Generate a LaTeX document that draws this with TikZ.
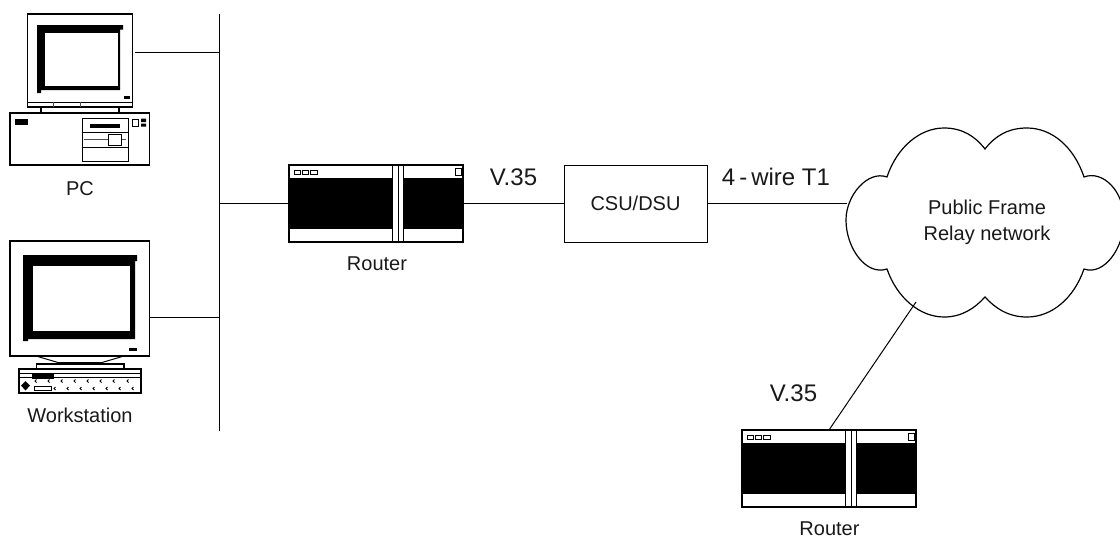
\documentclass[tikz,border=0pt]{standalone}
\usepackage{fontspec}
\setmainfont{Liberation Sans}
\tikzset{
  ln/.style={draw=black,line width=1pt},
  lk/.style={draw=black,line width=1.6pt},
  thinbox/.style={draw=black,line width=1pt,fill=white},
  devbox/.style={draw=black,line width=1.6pt,fill=white,inner sep=0pt,outer sep=0pt,rectangle},
  biglab/.style={font=\fontsize{20}{26}\selectfont,inner sep=0pt,text=black!90},
  hugelab/.style={font=\fontsize{24}{26}\selectfont,inner sep=0pt,text=black!90}
}
\newcommand{\routerart}[2]{%
  \begin{scope}[shift={(#1,#2)}]
    \fill[black] (0,13) rectangle (174,64);
    \draw[thinbox] (103,0) rectangle (109,77);
    \draw[thinbox] (109,0) rectangle (114,77);
    \draw[line width=1pt] (5,5) rectangle (11,9) (13,5) rectangle (19,9) (21,5) rectangle (28,9);
    \draw[line width=1pt] (166,3.5) rectangle (172,10.5);
    \draw[line width=1.6pt] (0,0) rectangle (174,77);
  \end{scope}}
\begin{document}
\begin{tikzpicture}[x=1pt,y=-1pt]
\useasboundingbox (0,0) rectangle (1120,539);
% PC
\node[devbox,minimum width=105pt,minimum height=93pt] (pcm) at (80,60.5) {};
\fill[black] (37,25) -- (123,25) -- (123,29.5) -- (120,29.5) -- (120,90) -- (41,90) -- (41,93) -- (37,93) -- cycle;
\fill[white] (45,32.5) rectangle (118,85.5);
\draw[ln] (27.5,102) -- (132,102);
\draw[line width=.8pt,draw=black!70] (53.5,102) -- (53.5,107) (80,102) -- (80,107);
\fill[black] (124,96) rectangle (129.5,98.5);
\draw[line width=1.2pt] (41,107) -- (41,113) (119,107) -- (119,113);
\node[devbox,minimum width=139.5pt,minimum height=52pt] (pcc) at (79.75,139) {};
\fill[black] (14.5,118.5) rectangle (28,124.5);
\draw[line width=1pt] (82.5,118) rectangle (128.5,161.5);
\draw[line width=1pt] (82.5,132) -- (128.5,132) (82.5,147) -- (128.5,147);
\draw[line width=.8pt,draw=black!70] (84,139.5) -- (126,139.5);
\fill[black] (90,124) rectangle (120,127.5);
\draw[line width=1pt,fill=white] (108,134.5) rectangle (121.5,145);
\draw[line width=1pt] (132.5,119) rectangle (138.5,126);
\fill[black] (141,118.5) rectangle (146,122) (141,123.5) rectangle (146,126.5);
\node[biglab] (pclab) at (80,189) {PC};
% Workstation
\node[devbox,minimum width=139.5pt,minimum height=115pt] (wsm) at (79.75,298.5) {};
\fill[black] (23,255) -- (137,255) -- (137,261) -- (135,261) -- (135,339) -- (28,339) -- (28,341) -- (23,341) -- cycle;
\fill[white] (32.5,266) rectangle (130,331);
\fill[black] (129,347.5) rectangle (137,350.5);
\draw[line width=1pt] (36,356) -- (58,362.5) -- (58,364) (124,356) -- (102,362.5) -- (102,364) (58,362.5) -- (102,362.5);
\draw[line width=1.2pt] (36.5,369) |- (124,364) -- (124,369);
\node[devbox,minimum width=122pt,minimum height=24pt] (wsk) at (80,381) {};
\draw[line width=.8pt] (19,373.5) -- (141,373.5) (19,377) -- (141,377);
\fill[black] (32,374) rectangle (54,378.5);
\fill[black] (25.5,381) -- (30,385.5) -- (25.5,390.5) -- (21,385.5) -- cycle;
\draw[line width=1pt] (34,386) rectangle (51.5,390);
\foreach \kx in {35,48,61,74,87,100,113,127}
  \draw[line width=1pt] (\kx+1.5,379.5) -- (\kx,381) -- (\kx+1.5,382.5);
\foreach \kx in {54,67,80,93,106,119,132}
  \draw[line width=1pt] (\kx+1.5,387) -- (\kx,388.5) -- (\kx+1.5,390);
\node[biglab] (wslab) at (80,415) {Workstation};
% Bus
\coordinate (bt) at (219,14);
\coordinate (bb) at (219,431);
\coordinate (b1) at (219,52);
\coordinate (b2) at (219,203.5);
\coordinate (b3) at (219,317);
\coordinate (pcp) at (135,52);
\draw[ln] (bt) -- (bb);
\draw[ln] (pcp) -- (b1);
\draw[ln] (wsm.east |- b3) -- (b3);
% Router 1
\node[rectangle,inner sep=0pt,outer sep=0pt,minimum width=174pt,minimum height=77pt] (r1) at (376,203.5) {};
\routerart{289}{165}
\node[biglab] (r1lab) at (377,264) {Router};
% CSU
\node[thinbox,inner sep=0pt,outer sep=0pt,minimum width=143pt,minimum height=77pt,biglab] (csu) at (635.5,203.5) {CSU/DSU};
% Cloud
\draw[line width=1.2pt,fill=white] (887,177) .. controls (897,147) and (920,128) .. (944,128)
  .. controls (962,128) and (975,136) .. (985,149)
  .. controls (995,136) and (1008,128) .. (1027,128)
  .. controls (1052,128) and (1074,147) .. (1084,177)
  .. controls (1102,170) and (1124,190) .. (1124,220)
  .. controls (1124,248) and (1104,276) .. (1084,269)
  .. controls (1074,298) and (1052,317) .. (1027,317)
  .. controls (1008,317) and (995,308) .. (985,297)
  .. controls (975,308) and (962,317) .. (944,317)
  .. controls (920,317) and (897,298) .. (887,269)
  .. controls (866,276) and (846,248) .. (846,220)
  .. controls (846,195) and (868,170) .. (887,177) -- cycle;
\node[biglab,align=center] (cloud) at (987,222) {Public Frame\\Relay network};
\coordinate (cw) at (847,203.5);
\coordinate (cs) at (916,302);
% Router 2
\node[rectangle,inner sep=0pt,outer sep=0pt,minimum width=174pt,minimum height=77pt] (r2) at (829,468.5) {};
\routerart{742}{430}
\node[biglab] (r2lab) at (829.5,528.5) {Router};
% Links
\draw[lk] (b2) -- (r1.west);
\draw[lk] (r1.east) -- (csu.west);
\draw[lk] (csu.east) -- (cw);
\draw[ln] (cs) -- (r2.north);
% Labels
\node[hugelab] (v1) at (513.5,177) {V.35};
\node[hugelab] (t1) at (776,177) {4\,-\,wire T1};
\node[hugelab] (v2) at (793.5,393) {V.35};
\end{tikzpicture}
\end{document}
